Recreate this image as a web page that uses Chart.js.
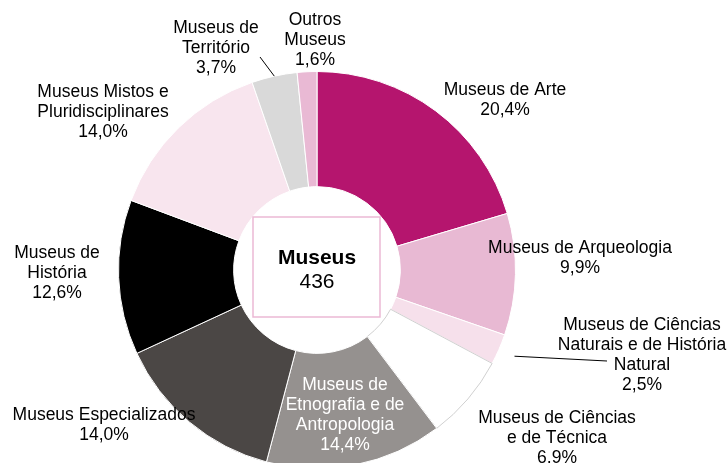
<!DOCTYPE html>
<html>
<head>
<meta charset="utf-8">
<script src="https://cdn.jsdelivr.net/npm/chart.js@4/dist/chart.umd.min.js"></script>
<style>
  html,body{margin:0;padding:0;background:#fff;overflow:hidden;}
  #wrap{width:727px;height:463px;overflow:hidden;position:relative;}
  #chart{position:absolute;left:0;top:0;}
</style>
</head>
<body>
<div id="wrap"><canvas id="chart" width="727" height="540"></canvas></div>
<script>
// categorias (com quebras de linha como no original) e percentagens
const categorias = [
  'Museus de Arte',
  'Museus de Arqueologia',
  'Museus de Ciências\nNaturais e de História\nNatural',
  'Museus de Ciências\ne de Técnica',
  'Museus de\nEtnografia e de\nAntropologia',
  'Museus Especializados',
  'Museus de\nHistória',
  'Museus Mistos e\nPluridisciplinares',
  'Museus de\nTerritório',
  'Outros\nMuseus'
];
const percentagens = [20.4, 9.9, 2.5, 6.9, 14.4, 14.0, 12.6, 14.0, 3.7, 1.6];
const cores = ['#B5156E','#E8B9D3','#F6E0EB','#FFFFFF','#95918F','#4B4745','#000000','#F8E5EE','#D9D9D9','#E9B9D4'];
const bordas = ['#FFFFFF','#FFFFFF','#FFFFFF','#D0D0D0','#FFFFFF','#FFFFFF','#FFFFFF','#FFFFFF','#FFFFFF','#FFFFFF'];
const totalTitulo = 'Museus';
const totalValor = '436';

// posição dos rótulos em relação ao centro do anel (px)
const rotulosPos = [
  {dx:188, dy:-170}, {dx:263, dy:-12}, {dx:325, dy:85}, {dx:240, dy:168},
  {dx:28, dy:145, cor:'#fff'}, {dx:-213, dy:155}, {dx:-260, dy:3},
  {dx:-214, dy:-158}, {dx:-101, dy:-222}, {dx:-2, dy:-230}
];
// linhas de chamada: índice, folga a partir do raio exterior, ponto final relativo ao centro
const chamadas = [
  {i:8, gap:0, ex:-57, ey:-213},
  {i:2, gap:17, ex:290, ey:91}
];

const FONTE = '"Liberation Sans", Arial, sans-serif';
const fmtPct = v => v.toFixed(1).replace('.', ',') + '%';

const rotulos = {
  id:'rotulos',
  afterDatasetsDraw(chart){
    const ctx = chart.ctx;
    const meta = chart.getDatasetMeta(0);
    const a0 = meta.data[0];
    const cx = a0.x, cy = a0.y, R = a0.outerRadius;
    ctx.save();
    // linhas de chamada
    ctx.strokeStyle = '#000';
    ctx.lineWidth = 1;
    chamadas.forEach(c=>{
      const arc = meta.data[c.i];
      const mid = (arc.startAngle + arc.endAngle)/2;
      const r = R + c.gap;
      ctx.beginPath();
      ctx.moveTo(cx + Math.cos(mid)*r, cy + Math.sin(mid)*r);
      ctx.lineTo(cx + c.ex, cy + c.ey);
      ctx.stroke();
    });
    // rótulos
    ctx.font = '17.5px ' + FONTE;
    ctx.textAlign = 'center';
    ctx.textBaseline = 'middle';
    const lh = 20;
    categorias.forEach((cat,i)=>{
      const linhas = cat.split('\n').concat([fmtPct(percentagens[i])]);
      const p = rotulosPos[i];
      ctx.fillStyle = p.cor || '#000';
      const y0 = cy + p.dy - (linhas.length-1)*lh/2;
      linhas.forEach((t,k)=>ctx.fillText(t, cx + p.dx, y0 + k*lh));
    });
    // caixa central
    ctx.strokeStyle = '#EBB9D5';
    ctx.lineWidth = 1.5;
    ctx.strokeRect(cx - 64, cy - 53, 127, 100);
    ctx.fillStyle = '#000';
    ctx.font = 'bold 21px ' + FONTE;
    ctx.fillText(totalTitulo, cx, cy - 12);
    ctx.font = '21px ' + FONTE;
    ctx.fillText(totalValor, cx, cy + 12);
    ctx.restore();
  }
};

new Chart(document.getElementById('chart'), {
  type:'doughnut',
  data:{
    labels:categorias,
    datasets:[{
      data:percentagens,
      backgroundColor:cores,
      borderColor:bordas,
      borderWidth:1
    }]
  },
  options:{
    responsive:false,
    animation:false,
    cutout:'42%',
    layout:{padding:{left:118, right:211, top:71, bottom:71}},
    plugins:{legend:{display:false}, tooltip:{enabled:false}}
  },
  plugins:[rotulos]
});
</script>
</body>
</html>
